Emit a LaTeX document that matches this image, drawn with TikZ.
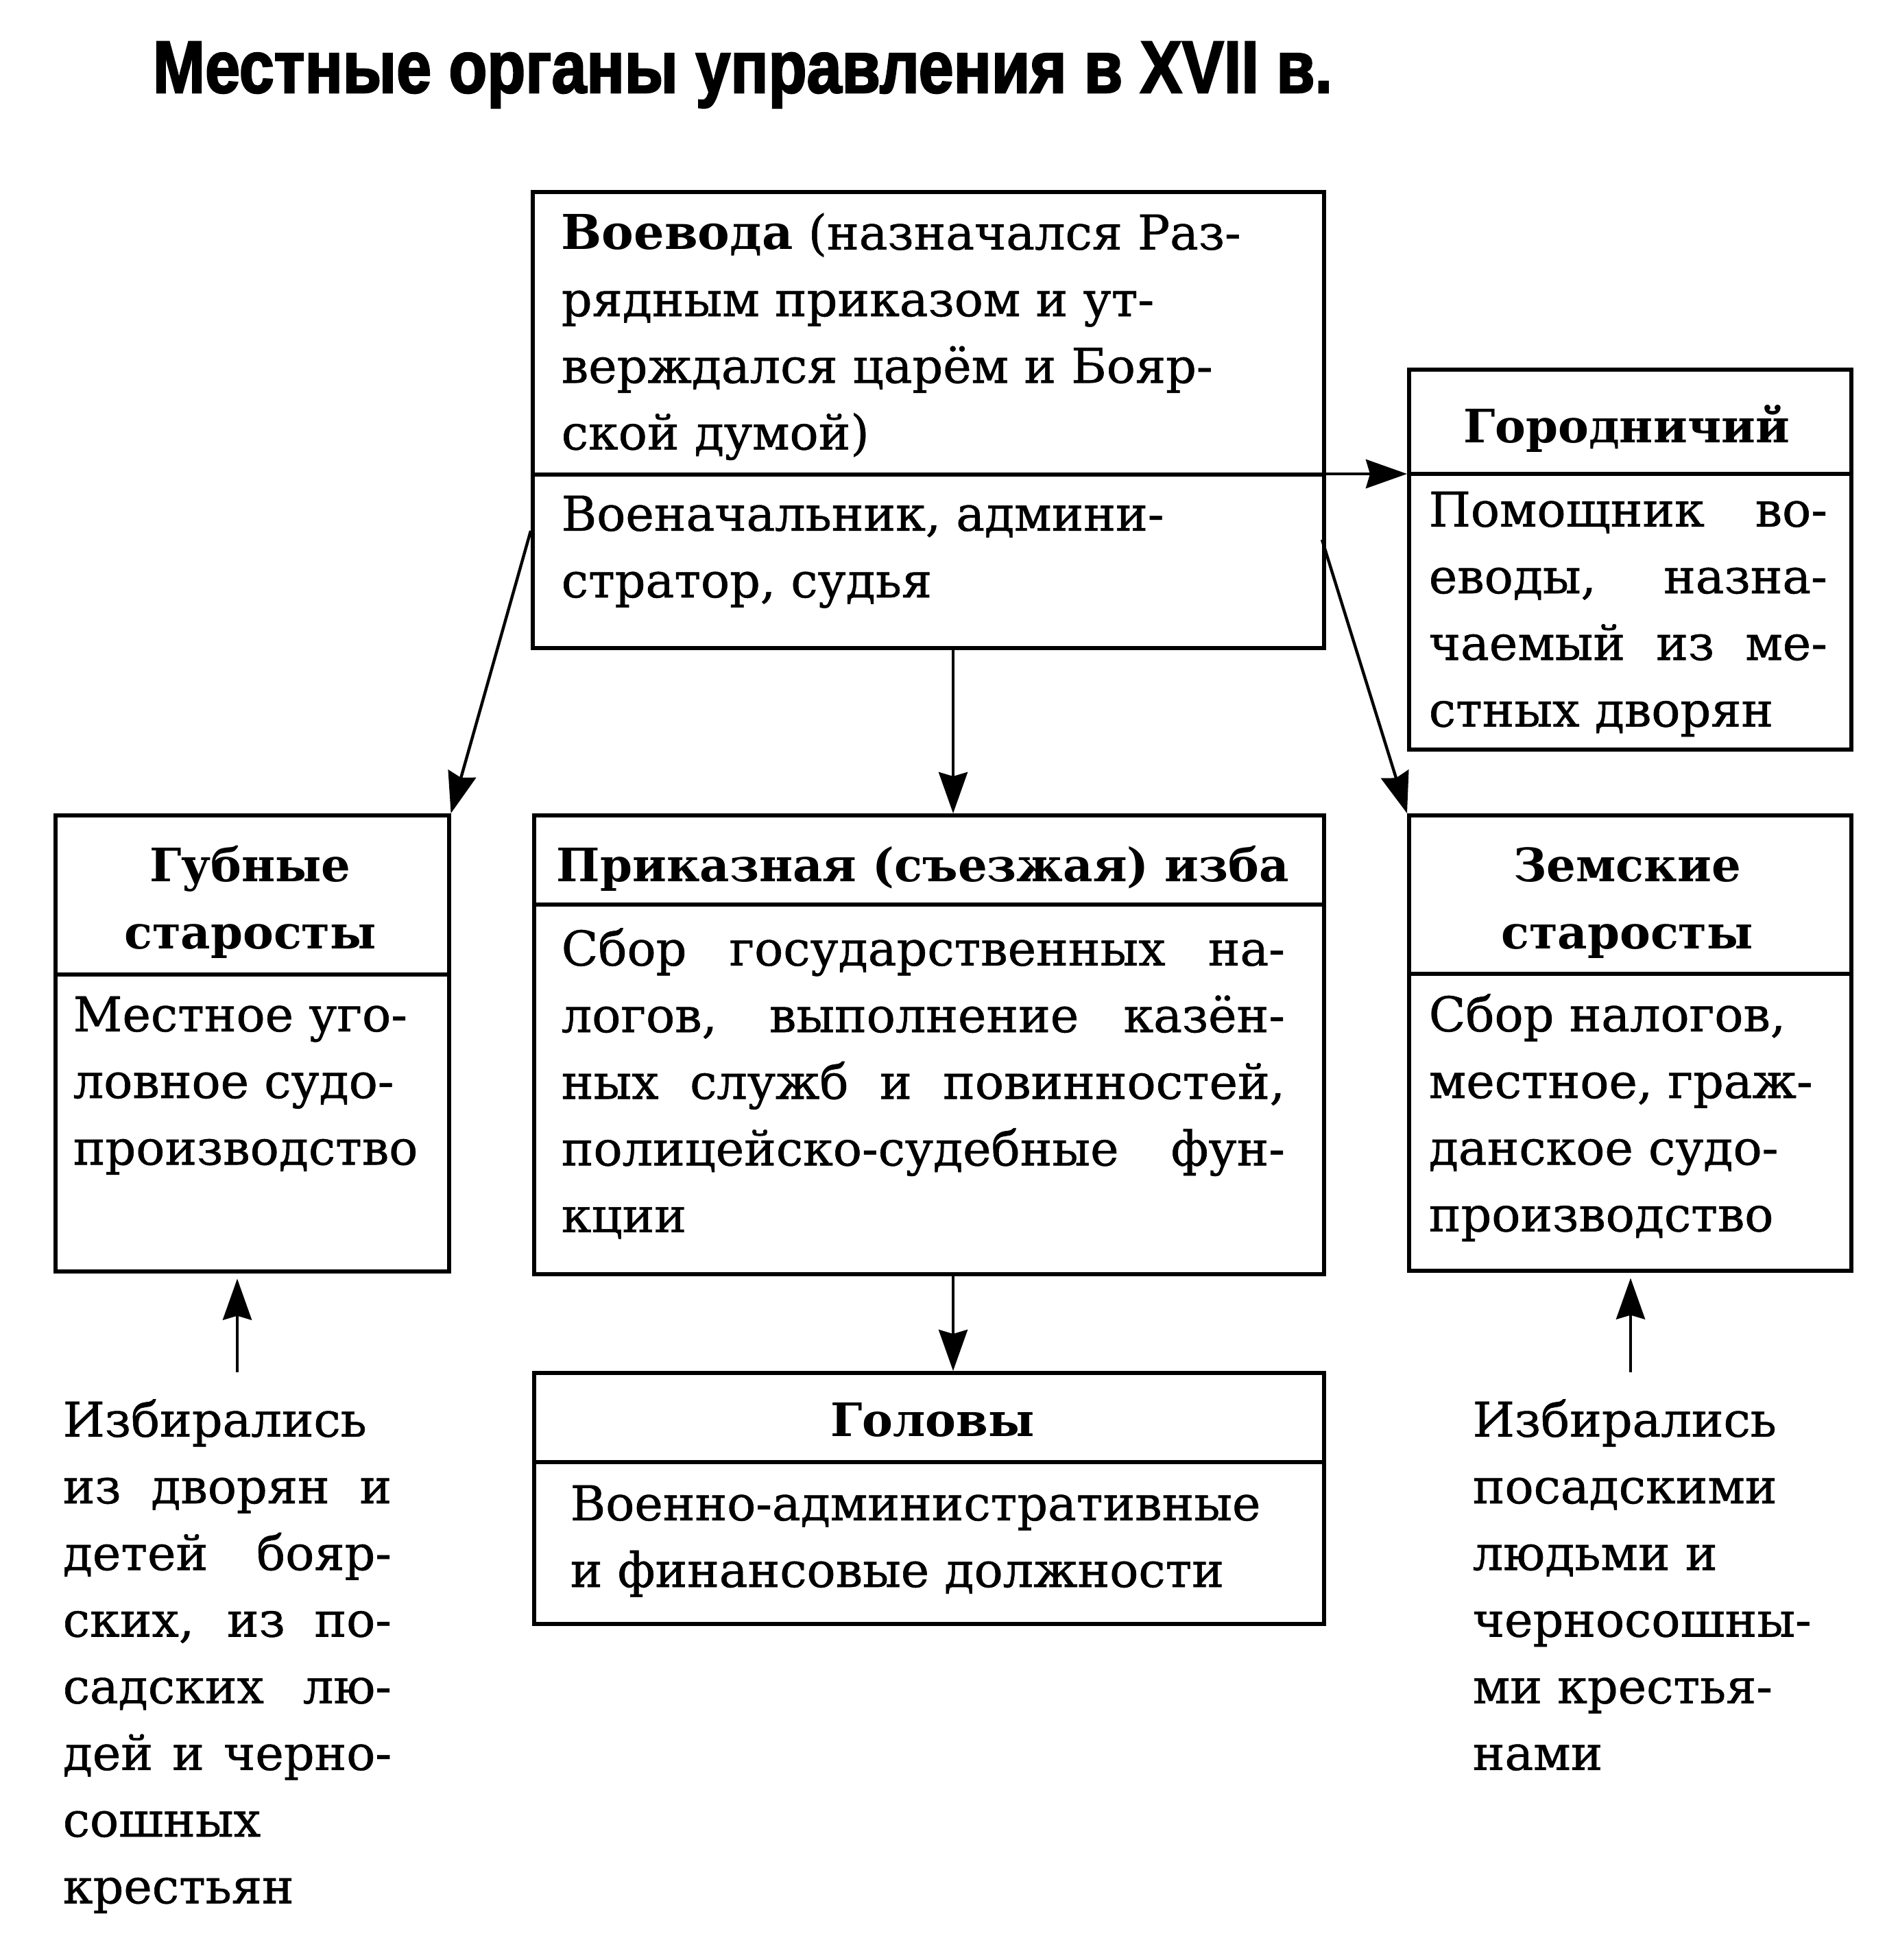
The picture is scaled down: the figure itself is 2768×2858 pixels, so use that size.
\documentclass[tikz,border=0pt]{standalone}
\usepackage{fontspec}
\setmainfont{DejaVu Serif}[UprightFeatures={FakeBold=0.8}]
\newfontfamily\titlefont{Liberation Sans}[BoldFeatures={FakeBold=2.5}]
\usetikzlibrary{arrows.meta}
\newcommand\bodysz{\fontsize{17.5pt}{24.3pt}\selectfont}
\newcommand\headsz{\fontsize{16.8pt}{24.3pt}\selectfont}
\newcommand\jl[2]{\makebox[#1][s]{#2}}
\begin{document}
\begin{tikzpicture}[x=0.25pt,y=-0.25pt,
  box/.style={draw, line width=1.4pt, inner sep=0, anchor=north west},
  divline/.style={line width=1.4pt},
  arr/.style={line width=1.1pt, -{Stealth[length=15pt,width=10.5pt,inset=1.5pt]}},
  tb/.style={anchor=north west, inner sep=0, align=left, font=\bodysz},
  hd/.style={anchor=base, inner sep=0, font=\headsz\bfseries},
  hd2/.style={anchor=north, inner sep=0, align=center, font=\headsz\bfseries}]
\useasboundingbox (0,0) rectangle (2768,2858);
% title
\node[anchor=base west, inner sep=0] (title) at (222,135)
  {\resizebox{430pt}{18.5pt}{\titlefont\bfseries Местные органы управления в XVII в.}};
% boxes
\node[box, minimum width=1154*0.25pt, minimum height=665*0.25pt] (voe) at (774,277) {};
\node[box, minimum width=645*0.25pt, minimum height=554*0.25pt] (gor) at (2052,536) {};
\node[box, minimum width=574*0.25pt, minimum height=665*0.25pt] (gub) at (78,1186) {};
\node[box, minimum width=1152*0.25pt, minimum height=669*0.25pt] (prk) at (776,1186) {};
\node[box, minimum width=645*0.25pt, minimum height=664*0.25pt] (zem) at (2052,1186) {};
\node[box, minimum width=1152*0.25pt, minimum height=366*0.25pt] (gol) at (776,1999) {};
% dividers
\draw[divline] (774,692) -- (1928,692);
\draw[divline] (2052,691) -- (2703,691);
\draw[divline] (78,1421) -- (652,1421);
\draw[divline] (776,1319) -- (1928,1319);
\draw[divline] (2052,1420) -- (2703,1420);
\draw[divline] (776,2132) -- (1928,2132);
% texts
\node[tb] (voet) at (818,295) {\strut\textbf{Воевода} (назначался Раз-\\рядным приказом и ут-\\верждался царём и Бояр-\\ской думой)};
\node[tb] (voeb) at (818,705) {\strut Военачальник, админи-\\стратор, судья};
\node[hd] (gorh) at (2372,645) {Городничий};
\node[tb] (gorb) at (2083,699) {\strut\jl{145.25pt}{Помощник во-}\\\jl{145.25pt}{еводы, назна-}\\\jl{145.25pt}{чаемый из ме-}\\стных дворян};
\node[hd2] (gubh) at (365,1217) {\strut Губные\\старосты};
\node[tb] (gubb) at (106,1435) {\strut Местное уго-\\ловное судо-\\производство};
\node[hd] (prkh) at (1346,1285) {Приказная (съезжая) изба};
\node[tb] (prkb) at (818,1339) {\strut\jl{263.75pt}{Сбор государственных на-}\\\jl{263.75pt}{логов, выполнение казён-}\\\jl{263.75pt}{ных служб и повинностей,}\\\jl{263.75pt}{полицейско-судебные фун-}\\кции};
\node[hd2] (zemh) at (2373,1217) {\strut Земские\\старосты};
\node[tb] (zemb) at (2083,1435) {\strut Сбор налогов,\\местное, граж-\\данское судо-\\производство};
\node[hd] (golh) at (1360,2094) {Головы};
\node[tb] (golb) at (831,2148) {\strut Военно-административные\\и финансовые должности};
\node[tb] (lt) at (91,2026) {\strut Избирались\\\jl{119.8pt}{из дворян и}\\\jl{119.8pt}{детей бояр-}\\\jl{119.8pt}{ских, из по-}\\\jl{119.8pt}{садских лю-}\\\jl{119.8pt}{дей и черно-}\\сошных\\крестьян};
\node[tb] (rt) at (2147,2026) {\strut Избирались\\посадскими\\людьми и\\черносошны-\\ми крестья-\\нами};
% arrows
\coordinate (vg) at (1928,691);
\draw[arr] (vg) -- (vg -| gor.west);
\coordinate (la) at (774,774);
\draw[arr] (la) -- (gub.north east);
\coordinate (ra) at (1928,787);
\draw[arr] (ra) -- (zem.north west);
\draw[arr] (voe.south -| 1390,0) -- (prk.north -| 1390,0);
\draw[arr] (prk.south -| 1390,0) -- (gol.north -| 1390,0);
\coordinate (gbs) at (346,2001);
\draw[arr, shorten >=2pt] (gbs) -- (gub.south -| gbs);
\coordinate (zms) at (2378,2001);
\draw[arr, shorten >=2pt] (zms) -- (zem.south -| zms);
\end{tikzpicture}
\end{document}
